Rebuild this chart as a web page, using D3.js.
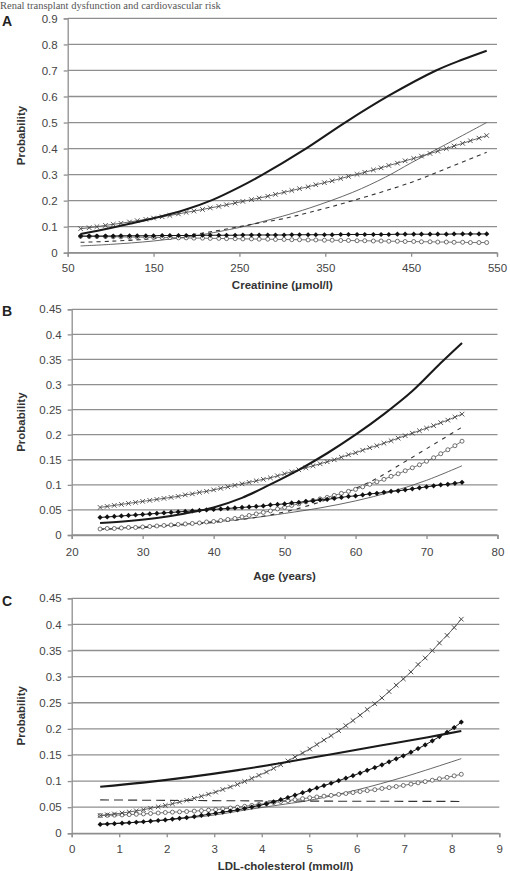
<!DOCTYPE html>
<html><head><meta charset="utf-8">
<script src="https://cdn.jsdelivr.net/npm/d3@7/dist/d3.min.js"></script>
<style>html,body{margin:0;padding:0;background:#fff;}svg{display:block;font-family:"Liberation Sans",Arial,sans-serif;}</style>
</head><body><svg id="chart" width="510" height="871"></svg>
<script>
// ---------- Panel A : creatinine ----------
const creatinine = [65,75,84,94,103,112,122,131,141,150,160,169,179,188,197,207,216,226,235,245,254,264,273,283,292,302,311,320,330,339,349,358,368,377,387,396,406,415,424,434,443,453,462,472,481,491,500,510,519,529,538];
const A_cross = [.092,.096,.100,.105,.109,.113,.118,.123,.128,.133,.138,.143,.149,.155,.160,.166,.172,.178,.184,.191,.197,.204,.210,.217,.224,.232,.239,.246,.253,.261,.269,.276,.285,.293,.301,.309,.318,.326,.335,.344,.353,.362,.371,.381,.390,.400,.410,.420,.430,.440,.450];
const A_diamond = [.064,.064,.064,.064,.064,.065,.065,.065,.065,.065,.066,.066,.066,.066,.066,.067,.067,.067,.067,.067,.068,.068,.068,.068,.068,.068,.069,.069,.069,.069,.069,.069,.070,.070,.070,.070,.070,.070,.070,.071,.071,.071,.071,.071,.071,.071,.072,.072,.072,.072,.072];
const A_circle = [.063,.062,.062,.062,.061,.061,.060,.060,.059,.059,.058,.058,.057,.057,.056,.056,.055,.055,.054,.054,.053,.053,.052,.052,.051,.051,.050,.050,.049,.049,.048,.048,.047,.047,.046,.046,.045,.045,.044,.044,.043,.043,.042,.042,.041,.041,.040,.040,.039,.039,.039];
const A_thick_x = [65,100,150,185,218,250,276,326,373,425,479,510,538];
const A_thick_y = [.072,.095,.132,.163,.202,.252,.298,.397,.500,.605,.700,.742,.776];
const A_thin_x = [65,100,150,200,250,274,300,332,382,420,450,487,538];
const A_thin_y = [.026,.032,.045,.066,.097,.117,.140,.172,.232,.290,.345,.410,.500];
const A_dash_x = [65,100,150,200,250,274,300,332,382,450,487,538];
const A_dash_y = [.040,.044,.054,.072,.100,.115,.130,.155,.200,.270,.318,.386];
const A_xTicks = [50,150,250,350,450,550];
const A_yTicks = [0,0.1,0.2,0.3,0.4,0.5,0.6,0.7,0.8,0.9];

// ---------- Panel B : age ----------
const age = [24,25,26,27,28,29,30,31,32,33,34,35,36,37,38,39,40,41,42,43,44,45,46,47,48,49,50,51,52,53,54,55,56,57,58,59,60,61,62,63,64,65,66,67,68,69,70,71,72,73,74,75];
const B_cross = [.055,.057,.059,.061,.063,.065,.067,.069,.071,.073,.075,.077,.080,.082,.085,.087,.090,.093,.096,.099,.102,.105,.108,.111,.114,.118,.122,.126,.130,.134,.138,.142,.146,.150,.155,.160,.164,.169,.174,.178,.183,.188,.193,.198,.203,.208,.213,.218,.224,.229,.235,.241];
const B_diamond = [.035,.036,.037,.038,.039,.040,.041,.042,.043,.044,.045,.046,.047,.048,.049,.050,.051,.052,.053,.054,.055,.056,.057,.058,.060,.061,.062,.064,.065,.067,.068,.070,.071,.073,.075,.077,.078,.080,.082,.083,.085,.087,.088,.090,.092,.094,.096,.098,.100,.101,.103,.105];
const B_circle = [.012,.013,.013,.014,.015,.015,.016,.017,.018,.019,.020,.021,.022,.023,.024,.026,.027,.029,.031,.033,.036,.039,.042,.045,.048,.052,.055,.059,.062,.066,.069,.072,.075,.079,.083,.087,.091,.096,.101,.106,.111,.117,.122,.128,.134,.140,.147,.154,.162,.170,.178,.187];
const B_thick_x = [24,28,32,36,40,44,48,52,56,60,64,68,72,75];
const B_thick_y = [.024,.028,.034,.043,.055,.074,.101,.130,.163,.200,.241,.287,.343,.383];
const B_thin_x = [24,30,40,46,50,55,60,65,70,75];
const B_thin_y = [.012,.016,.026,.035,.043,.054,.068,.086,.109,.138];
const B_dash_x = [24,30,40,45,50,55,60,63,66,70,75];
const B_dash_y = [.011,.015,.025,.033,.046,.066,.093,.113,.138,.172,.215];
const B_xTicks = [20,30,40,50,60,70,80];
const B_yTicks = [0,0.05,0.1,0.15,0.2,0.25,0.3,0.35,0.4,0.45];

// ---------- Panel C : LDL-cholesterol ----------
const ldl = [0.6,0.75,0.9,1.06,1.21,1.36,1.51,1.66,1.82,1.97,2.12,2.27,2.42,2.58,2.73,2.88,3.03,3.18,3.34,3.49,3.64,3.79,3.94,4.1,4.25,4.4,4.55,4.7,4.86,5.01,5.16,5.31,5.46,5.62,5.77,5.92,6.07,6.22,6.38,6.53,6.68,6.83,6.98,7.14,7.29,7.44,7.59,7.74,7.9,8.05,8.2];
const C_cross = [.034,.0355,.037,.0388,.0409,.043,.0452,.048,.0507,.0534,.0566,.060,.0633,.067,.0709,.0749,.079,.0839,.0888,.0936,.0993,.1051,.1109,.1174,.1244,.1314,.1386,.1462,.1538,.1614,.170,.1785,.187,.1964,.2062,.2159,.2262,.2371,.2481,.2592,.2714,.2836,.2957,.309,.3233,.3357,.3498,.3644,.379,.394,.410];
const C_diamond = [.017,.0178,.0185,.0193,.0202,.0212,.0221,.0233,.0245,.0257,.0272,.0287,.0302,.0321,.0342,.0363,.0384,.0406,.0427,.0448,.0475,.0503,.053,.0565,.0604,.0644,.0686,.0731,.0777,.0822,.0868,.0914,.0958,.1007,.1056,.1104,.1154,.1206,.1258,.1311,.1368,.1426,.1484,.1553,.1622,.1692,.177,.1852,.1934,.2024,.213];
const C_circle = [.034,.0344,.0348,.0352,.0358,.0364,.0371,.038,.0389,.0398,.0405,.0411,.0417,.0425,.0434,.0443,.0453,.0468,.0484,.0499,.0517,.0535,.0553,.0572,.059,.0608,.0626,.0644,.0663,.0681,.0696,.0711,.0726,.0744,.0762,.078,.0799,.0817,.0835,.0858,.0875,.0896,.0916,.0942,.0966,.099,.1017,.1044,.1071,.110,.113];
const C_thick_x = [0.6,1.5,2.5,3.5,4.5,5.5,6.5,7.5,8.2];
const C_thick_y = [.089,.097,.108,.121,.136,.152,.168,.184,.196];
const C_thin_x = [0.6,1.5,2.5,3.0,3.75,4.5,5.0,6.0,7.0,8.2];
const C_thin_y = [.018,.022,.030,.035,.046,.056,.063,.083,.108,.143];
const C_dash_x = [0.6,4.0,8.2];
const C_dash_y = [.064,.062,.061];
const C_xTicks = [0,1,2,3,4,5,6,7,8,9];
const C_yTicks = [0,0.05,0.1,0.15,0.2,0.25,0.3,0.35,0.4,0.45];

const titleText = "Renal transplant dysfunction and cardiovascular risk";
const yTitle = "Probability";

// ---------- drawing ----------
const svg = d3.select("#chart");
svg.append("rect").attr("width",510).attr("height",871).attr("fill","#fff");
svg.append("text").attr("x",0).attr("y",9.4).attr("font-family","'Liberation Serif','Times New Roman',serif")
  .attr("font-size",10.5).attr("fill","#555").text(titleText);

const GRID = "#8f8f8f";
const zip = (xs, ys) => xs.map((x,i)=>[x, ys[i]]);
const fmt = d => String(+d.toFixed(2));

function panel(o){
  const g = svg.append("g");
  const x = d3.scaleLinear().domain([o.xTicks[0], o.xTicks[o.xTicks.length-1]]).range([o.left, o.right]);
  const y = d3.scaleLinear().domain([0, o.yTicks[o.yTicks.length-1]]).range([o.bottom, o.top]);
  g.selectAll(".grid").data(o.yTicks).join("line")
    .attr("x1",o.left).attr("x2",o.right).attr("y1",d=>y(d)).attr("y2",d=>y(d))
    .attr("stroke",GRID).attr("stroke-width",1.3);
  const ya = g.append("g").attr("transform",`translate(${o.left},0)`)
    .call(d3.axisLeft(y).tickValues(o.yTicks).tickFormat(fmt).tickSize(4).tickPadding(6));
  ya.select(".domain").attr("stroke",GRID).attr("stroke-width",1.3);
  ya.selectAll(".tick line").attr("stroke",GRID).attr("stroke-width",1.3);
  ya.selectAll("text").attr("font-size",11.5).attr("fill","#444").attr("font-family","'Liberation Sans',Arial,sans-serif");
  const xa = g.append("g").attr("transform",`translate(0,${o.bottom})`)
    .call(d3.axisBottom(x).tickValues(o.xTicks).tickFormat(fmt).tickSize(4).tickPadding(o.xPad));
  xa.select(".domain").attr("stroke",GRID).attr("stroke-width",1.3);
  xa.selectAll(".tick line").attr("stroke",GRID).attr("stroke-width",1.3);
  xa.selectAll("text").attr("font-size",11.5).attr("fill","#444").attr("font-family","'Liberation Sans',Arial,sans-serif");
  g.append("text").attr("x",(o.left+o.right)/2).attr("y",o.xTitleY).attr("text-anchor","middle")
    .attr("font-weight","bold").attr("font-size",11.5).attr("fill","#333").text(o.xTitle);
  g.append("text").attr("transform",`translate(25,${(o.top+o.bottom)/2}) rotate(-90)`).attr("text-anchor","middle")
    .attr("font-weight","bold").attr("font-size",11.5).attr("fill","#333").text(yTitle);
  g.append("text").attr("x",2).attr("y",o.letterY).attr("font-weight","bold").attr("font-size",14).attr("fill","#222").text(o.letter);

  const lineM = d3.line().x(d=>x(d[0])).y(d=>y(d[1])).curve(d3.curveMonotoneX);
  const lineS = d3.line().x(d=>x(d[0])).y(d=>y(d[1])).curve(d3.curveCatmullRom.alpha(0.5));
  const path = (pts, stroke, w, dash, smooth) => g.append("path").datum(pts).attr("d",smooth?lineS:lineM)
    .attr("fill","none").attr("stroke",stroke).attr("stroke-width",w).attr("stroke-dasharray",dash||null);

  path(zip(o.thin[0],o.thin[1]),"#555",0.9,null,true);
  path(zip(o.dash[0],o.dash[1]),"#333",1.1,o.dashArr,true);
  const cp = zip(o.xs,o.circle);
  path(cp,"#555",0.8);
  g.selectAll(null).data(cp).join("circle").attr("cx",d=>x(d[0])).attr("cy",d=>y(d[1])).attr("r",2)
    .attr("fill","#fff").attr("stroke","#444").attr("stroke-width",0.75);
  const dp = zip(o.xs,o.diamond);
  path(dp,"#111",1);
  g.selectAll(null).data(dp).join("path").attr("d","M0,-2.6L2.6,0L0,2.6L-2.6,0Z")
    .attr("transform",d=>`translate(${x(d[0])},${y(d[1])})`).attr("fill","#111");
  const xp = zip(o.xs,o.cross);
  path(xp,"#555",0.9);
  g.selectAll(null).data(xp).join("path").attr("d","M-2.3,-2.3L2.3,2.3M-2.3,2.3L2.3,-2.3")
    .attr("transform",d=>`translate(${x(d[0])},${y(d[1])})`).attr("stroke","#444").attr("stroke-width",0.9).attr("fill","none");
  path(zip(o.thick[0],o.thick[1]),"#1a1a1a",2.1,null,true);
}

panel({left:67.7,right:497,top:18.4,bottom:252.7,xTicks:A_xTicks,yTicks:A_yTicks,xPad:7,
  xTitle:"Creatinine (\u03bcmol/l)",xTitleY:289,letter:"A",letterY:26,
  xs:creatinine,cross:A_cross,diamond:A_diamond,circle:A_circle,
  thick:[A_thick_x,A_thick_y],thin:[A_thin_x,A_thin_y],dash:[A_dash_x,A_dash_y],dashArr:"4,4"});
panel({left:71.7,right:497.5,top:309.3,bottom:535,xTicks:B_xTicks,yTicks:B_yTicks,xPad:9,
  xTitle:"Age (years)",xTitleY:580,letter:"B",letterY:316,
  xs:age,cross:B_cross,diamond:B_diamond,circle:B_circle,
  thick:[B_thick_x,B_thick_y],thin:[B_thin_x,B_thin_y],dash:[B_dash_x,B_dash_y],dashArr:"4,5"});
panel({left:71.7,right:499.3,top:598.3,bottom:833.3,xTicks:C_xTicks,yTicks:C_yTicks,xPad:8,
  xTitle:"LDL-cholesterol (mmol/l)",xTitleY:870,letter:"C",letterY:606,
  xs:ldl,cross:C_cross,diamond:C_diamond,circle:C_circle,
  thick:[C_thick_x,C_thick_y],thin:[C_thin_x,C_thin_y],dash:[C_dash_x,C_dash_y],dashArr:"9,5"});
</script></body></html>
